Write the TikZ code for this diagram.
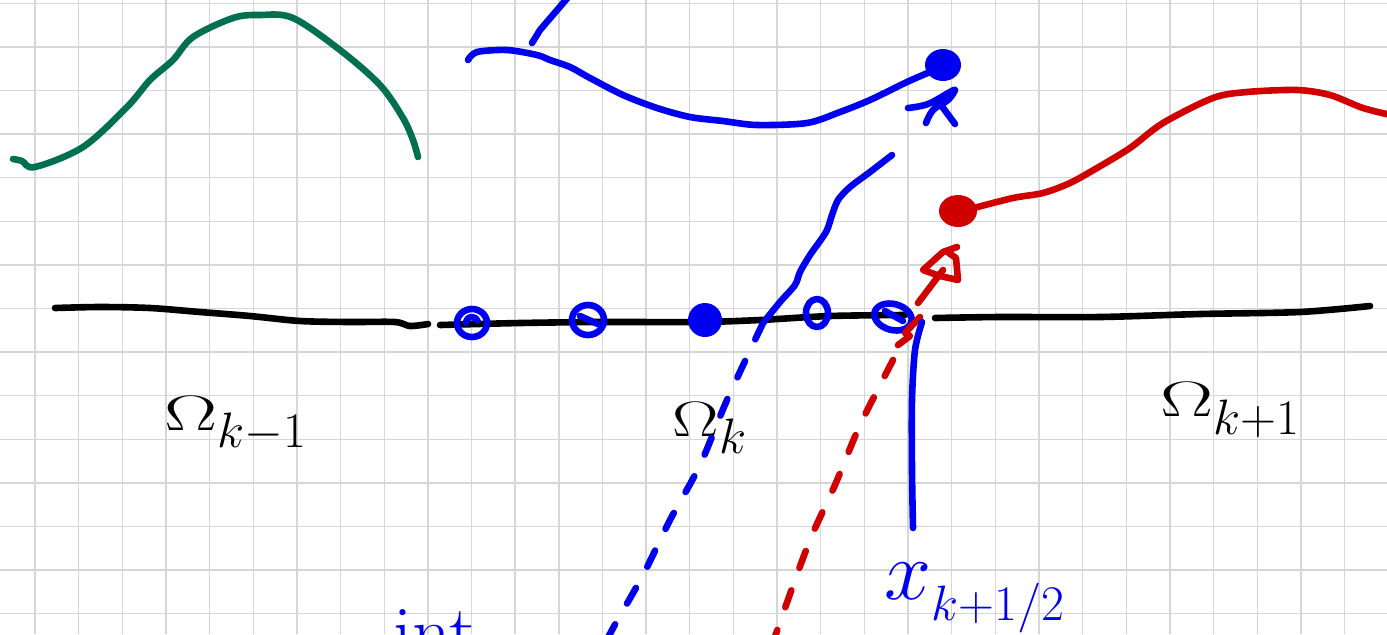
\documentclass[tikz,border=0pt]{standalone}
\usepackage{graphicx}
\definecolor{pblue}{HTML}{0000F0}
\definecolor{pred}{HTML}{D00000}
\definecolor{pgreen}{HTML}{007050}
\definecolor{gridc}{HTML}{D6D6D6}
\begin{document}
\begin{tikzpicture}[x=0.5pt,y=-0.5pt,
  pen/.style={line width=3.3pt, line cap=round, line join=round},
  dashpen/.style={pen, dash pattern=on 9pt off 12pt},
  lbl/.style={inner sep=0pt, font=\fontsize{40}{42}\selectfont},
  gridline/.style={gridc, line width=0.7pt}]
\useasboundingbox (0,0) rectangle (1387,634);
\clip (0,0) rectangle (1387,634);
\fill[white] (0,0) rectangle (1387,634);
% grid
\foreach \i in {0,...,31} {\draw[gridline] ({35+43.65*\i},0) -- ({35+43.65*\i},634);}
\foreach \j in {0,...,14} {\draw[gridline] (0,{3.3+43.6*\j}) -- (1387,{3.3+43.6*\j});}

% labels
\node[lbl, anchor=center] (omL) at (236,424) {$\scalebox{1.6}[1]{$\Omega$}_{k-1}$};
\node[lbl, anchor=center] (omC) at (710,428) {$\scalebox{1.4}[1]{$\Omega$}_{k}$};
\node[lbl, anchor=center] (omR) at (1230,410) {$\scalebox{1.6}[1]{$\Omega$}_{k+1}$};
\node[lbl, text=pblue, anchor=center, font=\fontsize{40}{42}\selectfont] (xlab) at (975,598) {$\scalebox{1.7}{$x$}_{k+1/2}$};
\node[lbl, text=pblue, anchor=base west, font=\fontsize{38}{40}\selectfont] (intlab) at (393,658) {int};

% green curve
\draw[pen, pgreen] plot[smooth, tension=0.55] coordinates {(13,159) (22,161) (35,167) (83,147) (127,107) (150,80) (173,60) (193,37) (233,18) (260,15) (293,18) (340,50) (380,85) (403,118) (413,140) (418,157)};

% black axis
\draw[pen, black] plot[smooth, tension=0.5] coordinates {(55,308) (100,307) (150,308) (200,312) (250,316) (300,321) (350,322) (395,322) (410,326) (428,324)};
\draw[pen, black] plot[smooth, tension=0.5] coordinates {(440,325) (520,323) (600,322) (700,322) (760,320) (830,316) (905,315)};
\draw[pen, black] plot[smooth, tension=0.5] coordinates {(935,318) (1000,317) (1100,317) (1200,314) (1300,312) (1370,306)};

% blue points on axis
\coordinate (p1) at (472,323);
\coordinate (p2) at (588,320);
\coordinate (p3) at (705,320);
\coordinate (p4) at (817,313);
\coordinate (p5) at (893,317);
\draw[pen, pblue] (p1) ellipse [x radius=7.5pt, y radius=7pt];
\draw[pen, pblue] ([xshift=-3pt]p1) arc[start angle=180, end angle=20, radius=3pt];
\draw[pen, pblue] (p2) ellipse [x radius=8pt, y radius=7.5pt];
\draw[pen, pblue] ([xshift=-4pt,yshift=2pt]p2) -- ([xshift=5pt,yshift=-2pt]p2);
\fill[pblue] (p3) circle [radius=8.5pt];
\draw[pen, pblue] (p4) ellipse [x radius=5.5pt, y radius=7pt];
\draw[pen, pblue] (p5) ellipse [x radius=9.5pt, y radius=6.5pt, rotate=-15];
\draw[pen, pblue] ([xshift=-4pt,yshift=3pt]p5) -- ([xshift=5pt,yshift=-2pt]p5);

% blue top curve and dot
\coordinate (bdot) at (943,65);
\draw[pen, pblue] plot[smooth, tension=0.5] coordinates {(468,60) (477,52) (507,50) (537,55) (550,60) (570,67) (590,78) (623,95) (657,108) (690,117) (723,121) (757,125) (807,123) (840,112) (870,100) (907,82) (930,72)};
\fill[pblue] (bdot) ellipse [x radius=9pt, y radius=8pt];
\draw[pen, pblue] (532,43) -- (540,30) -- (570,-5);
% little x under the dot
\draw[pen, pblue] plot[smooth, tension=0.6] coordinates {(908,108) (928,104) (950,92) (955,90) (948,100) (933,110) (926,123)};
\draw[pen, pblue] (938,101) -- (955,124);

% blue solid curve to the axis, then dashed
\coordinate (bcross) at (763,323);
\draw[pen, pblue] plot[smooth, tension=0.5] coordinates {(892,155) (870,172) (850,187) (838,200) (832,215) (826,232) (810,255) (800,272) (795,285) (780,302) (763,323)};
\draw[dashpen, pblue] plot[smooth, tension=0.5] coordinates {(763,323) (727,400) (700,465) (670,520) (643,575) (612,630) (600,655)};

% red curve and dot
\coordinate (rdot) at (958,211);
\draw[pen, pred] plot[smooth, tension=0.5] coordinates {(970,209) (1013,198) (1043,193) (1070,183) (1097,168) (1130,148) (1163,123) (1213,98) (1247,92) (1297,90) (1330,95) (1363,108) (1395,116)};
\fill[pred] (rdot) ellipse [x radius=9.5pt, y radius=8pt];

% red arrow to the dot, dashed below the axis
\draw[pen, pred] (918,303) -- (943,270);
\draw[pen, pred] (957,247) -- (943,252) -- (923,270) -- (940,276) -- (958,280) -- (956,258) -- (946,251);
\draw[pen, pred] (920,317) -- (905,333) -- (910,336) -- (898,345);
\draw[dashpen, pred] plot[smooth, tension=0.4] coordinates {(893,360) (860,425) (835,485) (812,535) (795,580) (772,645)};

% blue vertical line at x_{k+1/2}
\draw[pen, pblue] plot[smooth, tension=0.5] coordinates {(922,322) (915,350) (912,400) (912,470) (913,528)};
\end{tikzpicture}
\end{document}
